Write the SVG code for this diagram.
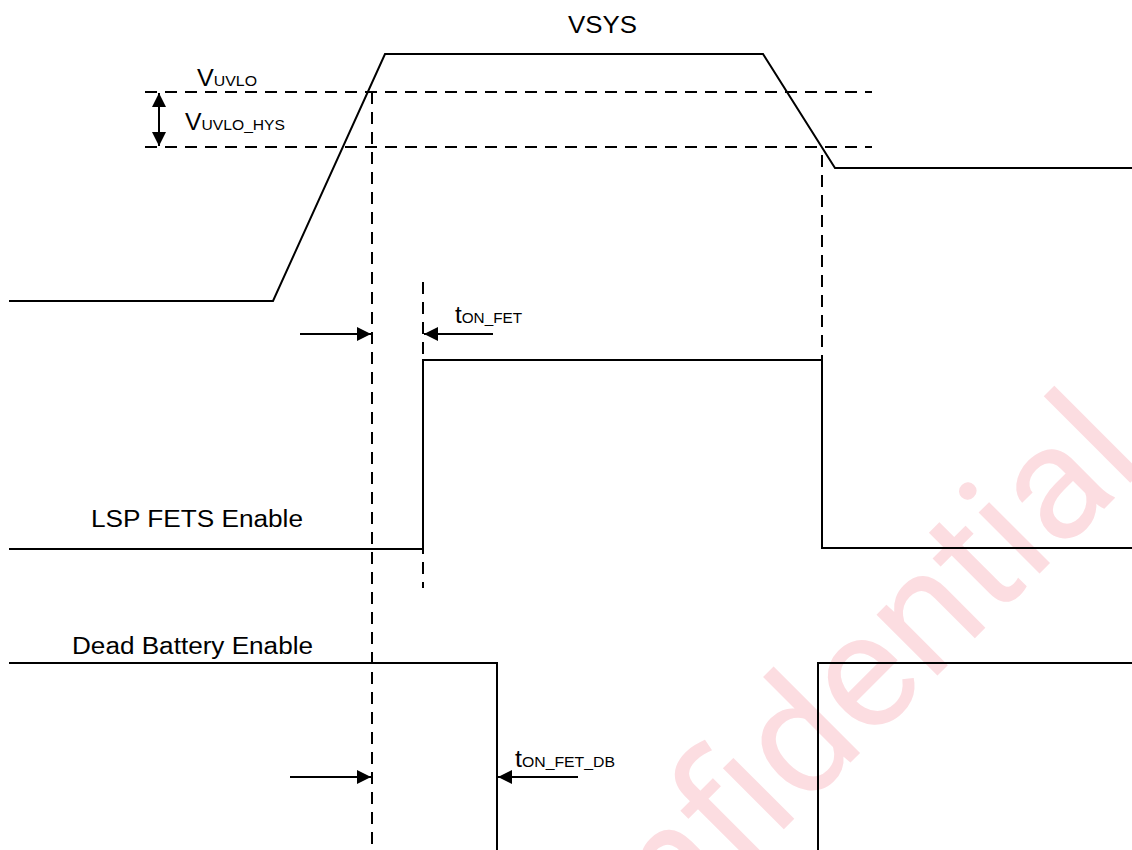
<svg xmlns="http://www.w3.org/2000/svg" width="1132" height="850" viewBox="0 0 1132 850">
<style>
.w{fill:none;stroke:#000;stroke-width:2;stroke-linejoin:miter}
.d{fill:none;stroke:#000;stroke-width:2;stroke-dasharray:12,8}
.a{fill:none;stroke:#000;stroke-width:2}
.t{font-family:"Liberation Sans",Arial,sans-serif;fill:#000}
.wm{font-family:Roboto,"Open Sans",sans-serif;fill:#fcdde1}
</style>
<defs>
<marker id="ah" viewBox="0 0 14 14" refX="14" refY="7" markerWidth="14" markerHeight="14" markerUnits="userSpaceOnUse" orient="auto-start-reverse">
<path d="M0,0 L14,7 L0,14 Z" fill="#000"/>
</marker>
</defs>
<rect width="1132" height="850" fill="#fff"/>
<text class="wm" font-size="163" transform="translate(535,1078) rotate(-45)">Confidential</text>

<g id="vsys">
<polyline class="w" points="9,301 273,301 385,54 763,54 835,168 1132,168"/>
<text class="t" x="568" y="33" font-size="23" textLength="69" lengthAdjust="spacingAndGlyphs">VSYS</text>
</g>

<g id="thresholds">
<line class="d" x1="145" y1="92" x2="872" y2="92"/>
<line class="d" x1="145" y1="147" x2="872" y2="147"/>
<text class="t" x="197" y="86" font-size="23" textLength="60" lengthAdjust="spacingAndGlyphs">V<tspan font-size="14.5">UVLO</tspan></text>
<text class="t" x="185" y="130" font-size="23" textLength="100" lengthAdjust="spacingAndGlyphs">V<tspan font-size="14.5">UVLO_HYS</tspan></text>
</g>

<g id="lsp">
<polyline class="w" points="9,549 423,549 423,360 822,360 822,548 1132,548"/>
<text class="t" x="91" y="527" font-size="23" textLength="212" lengthAdjust="spacingAndGlyphs">LSP FETS Enable</text>
</g>

<g id="db">
<polyline class="w" points="9,663 497,663 497,850"/>
<polyline class="w" points="818,850 818,663 1132,663"/>
<text class="t" x="72" y="654" font-size="23" textLength="241" lengthAdjust="spacingAndGlyphs">Dead Battery Enable</text>
</g>

<g id="timing-labels">
<text class="t" x="455" y="323" font-size="23" textLength="67" lengthAdjust="spacingAndGlyphs">t<tspan font-size="14.5">ON_FET</tspan></text>
<text class="t" x="515" y="767" font-size="23" textLength="100" lengthAdjust="spacingAndGlyphs">t<tspan font-size="14.5">ON_FET_DB</tspan></text>
</g>

<g id="connectors">
<line class="d" x1="372" y1="92" x2="372" y2="850"/>
<line class="d" x1="423" y1="282" x2="423" y2="588"/>
<line class="d" x1="822" y1="155" x2="822" y2="360"/>
<line class="a" x1="159" y1="93" x2="159" y2="146" marker-start="url(#ah)" marker-end="url(#ah)"/>
<line class="a" x1="300" y1="334" x2="371" y2="334" marker-end="url(#ah)"/>
<line class="a" x1="493" y1="334" x2="424" y2="334" marker-end="url(#ah)"/>
<line class="a" x1="290" y1="777" x2="371" y2="777" marker-end="url(#ah)"/>
<line class="a" x1="578" y1="777" x2="498" y2="777" marker-end="url(#ah)"/>
</g>
</svg>
